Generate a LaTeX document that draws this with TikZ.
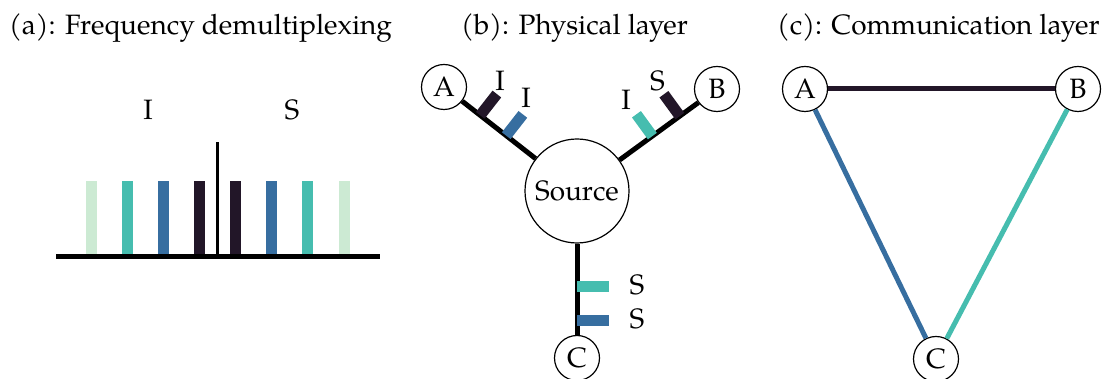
\documentclass[tikz,border=0pt]{standalone}
\usepackage{fontspec}
\setmainfont{TeX Gyre Pagella}
\usetikzlibrary{calc}
\definecolor{cdark}{HTML}{221628}
\definecolor{cblue}{HTML}{376EA0}
\definecolor{cteal}{HTML}{46BDAF}
\definecolor{clight}{HTML}{CCEAD3}
\tikzset{
  every node/.style={font=\fontsize{28}{33}\selectfont, inner sep=0pt},
  vtx/.style={circle, draw, line width=1.2pt, minimum size=45pt, fill=white},
  src/.style={circle, draw, line width=1.2pt, minimum size=104pt, fill=white},
  edge/.style={line width=5pt},
  cedge/.style={line width=5pt},
  bar/.style={line width=11pt},
  tick/.style={line width=11pt},
  lbl/.style={anchor=base},
  title/.style={anchor=base west},
}
\begin{document}
\begin{tikzpicture}[x=1pt,y=1pt]
\useasboundingbox (0,0) rectangle (1109,379);
% titles
\node[title] (ta) at (9,344) {(a): Frequency demultiplexing};
\node[title] (tb) at (461,344) {(b): Physical layer};
\node[title] (tc) at (777,344) {(c): Communication layer};

% ---------- panel (a)
\foreach \k/\c in {0/clight,1/cteal,2/cblue,3/cdark,4/cdark,5/cblue,6/cteal,7/clight}{
  \draw[bar,\c] ({91.3+36.1*\k},122.5) -- ({91.3+36.1*\k},198);
}
\draw[line width=2.5pt] (217.7,122.5) -- (217.7,237);
\draw[line width=5pt] (56,122.5) -- (380,122.5);
\node[lbl] (aI) at (148,259) {I};
\node[lbl] (aS) at (292,259) {S};

% ---------- panel (b)
\node[src] (S) at (577,188) {Source};
\node[vtx] (A) at (444,292) {A};
\node[vtx] (B) at (717,290) {B};
\node[vtx] (C) at (577,21) {C};
\draw[edge] (A) -- (S);
\draw[edge] (B) -- (S);
\draw[edge] (S) -- (C);
% ticks on A--S (perpendicular, up-right)
\coordinate (a1) at ($(A)!46pt!(S)$);
\coordinate (a2) at ($(A)!79pt!(S)$);
\draw[tick,cdark] (a1) -- ($(a1)!27pt!90:(S)$);
\draw[tick,cblue] (a2) -- ($(a2)!27pt!90:(S)$);
% ticks on B--S (perpendicular, up-left)
\coordinate (b1) at ($(B)!46pt!(S)$);
\coordinate (b2) at ($(B)!80pt!(S)$);
\draw[tick,cdark] (b1) -- ($(b1)!27pt!-90:(S)$);
\draw[tick,cteal] (b2) -- ($(b2)!27pt!-90:(S)$);
% ticks on C--S (to the right)
\coordinate (c1) at ($(C)+(0,71)$);
\coordinate (c2) at ($(C)+(0,37.5)$);
\draw[tick,cteal] (c1) -- ++(31.5,0);
\draw[tick,cblue] (c2) -- ++(31.5,0);
\node[lbl] (bI1) at (500,288) {I};
\node[lbl] (bI2) at (526,271) {I};
\node[lbl] (bS1) at (657.5,288) {S};
\node[lbl] (bI3) at (626,269) {I};
\node[lbl] (bS2) at (637,84) {S};
\node[lbl] (bS3) at (637,50) {S};

% ---------- panel (c)
\node[vtx] (A2) at (805,290) {A};
\node[vtx] (B2) at (1078,290) {B};
\node[vtx] (C2) at (936,20) {C};
\draw[cedge,cdark] (A2) -- (B2);
\draw[cedge,cblue] (A2) -- (C2);
\draw[cedge,cteal] (B2) -- (C2);
\end{tikzpicture}
\end{document}
